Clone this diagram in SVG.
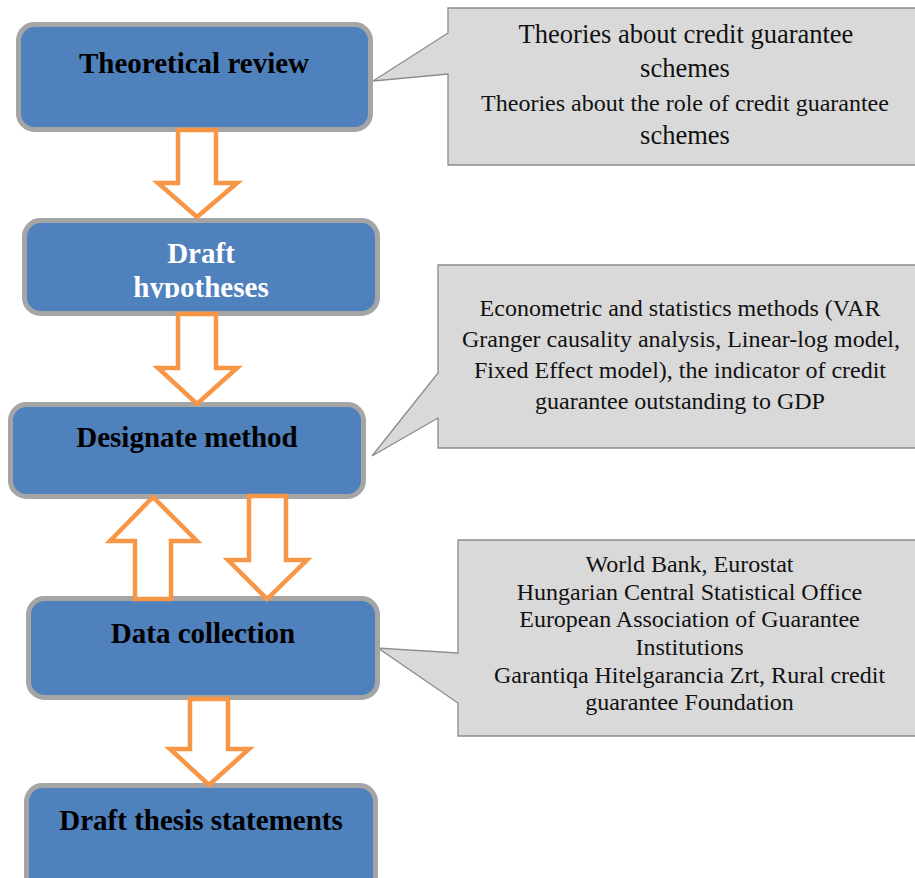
<svg xmlns="http://www.w3.org/2000/svg" width="915" height="878" viewBox="0 0 915 878">
<style>
.box{fill:#4f81bd;stroke:#a5a5a5;stroke-width:5}
.arr{fill:#ffffff;stroke:#f79646;stroke-width:4.5;stroke-linejoin:miter}
.call{fill:#d9d9d9;stroke:#8c8c8c;stroke-width:1.3}
.bt{font-family:"Liberation Serif","Times New Roman",serif;font-weight:bold;font-size:29px;text-anchor:middle;fill:#000}
.wt{fill:#ffffff}
.ct{font-family:"Liberation Serif","Times New Roman",serif;font-size:24px;text-anchor:middle;fill:#111}
.lg{font-size:26.5px}
</style>
<defs>
<clipPath id="clipH"><rect x="0" y="0" width="915" height="298"/></clipPath>
</defs>
<rect width="915" height="878" fill="#ffffff"/>
<g id="callout1">
<path class="call" d="M448,8 H918 V165 H448 V74 L373,81 L448,33 Z"/>
<text class="ct lg" x="686" y="43">Theories about credit guarantee</text>
<text class="ct lg" x="685" y="77">schemes</text>
<text class="ct" x="685" y="111">Theories about the role of credit guarantee</text>
<text class="ct lg" x="685" y="144">schemes</text>
</g>
<g id="callout2">
<path class="call" d="M438,265 H918 V448 H438 V418 L372,456 L438,373 Z"/>
<text class="ct" x="680" y="316">Econometric and statistics methods (VAR</text>
<text class="ct" x="681" y="347">Granger causality analysis, Linear-log model,</text>
<text class="ct" x="680" y="378">Fixed Effect model), the indicator of credit</text>
<text class="ct" x="680" y="409">guarantee outstanding to GDP</text>
</g>
<g id="callout3">
<path class="call" d="M458,540 H918 V736 H458 V703 L378,648 L458,653 Z"/>
<text class="ct" x="689.5" y="572">World Bank, Eurostat</text>
<text class="ct" x="689.5" y="600">Hungarian Central Statistical Office</text>
<text class="ct" x="689.5" y="627">European Association of Guarantee</text>
<text class="ct" x="689.5" y="655">Institutions</text>
<text class="ct" x="689.5" y="683">Garantiqa Hitelgarancia Zrt, Rural credit</text>
<text class="ct" x="689.5" y="710">guarantee Foundation</text>
</g>
<g id="theoretical-review">
<rect class="box" x="18.5" y="24.5" width="352" height="105" rx="16"/>
<text class="bt" x="194" y="73">Theoretical review</text>
</g>
<g id="draft-hypotheses">
<rect class="box" x="24.5" y="220.5" width="353" height="93" rx="16"/>
<g clip-path="url(#clipH)">
<text class="bt wt" x="201" y="263">Draft</text>
<text class="bt wt" x="201" y="297">hypotheses</text>
</g>
</g>
<g id="designate-method">
<rect class="box" x="10.5" y="404.5" width="353" height="92" rx="16"/>
<text class="bt" x="187" y="447">Designate method</text>
</g>
<g id="data-collection">
<rect class="box" x="28.5" y="598.5" width="349" height="99" rx="16"/>
<text class="bt" x="203" y="643">Data collection</text>
</g>
<g id="draft-thesis-statements">
<rect class="box" x="26.5" y="785.5" width="349" height="120" rx="16"/>
<text class="bt" x="201" y="830">Draft thesis statements</text>
</g>
<g id="connectors">
<polygon class="arr" points="178,130 216,130 216,183 237,183 197,217 158,183 178,183"/>
<polygon class="arr" points="178,314 216,314 216,368 237,368 197,404 158,368 178,368"/>
<polygon class="arr" points="135,599 171,599 171,541 197,541 153,497 110,541 135,541"/>
<polygon class="arr" points="249,496 286,496 286,560 307,560 267,599 228,560 249,560"/>
<polygon class="arr" points="190,699 228,699 228,749 249,749 209,785 170,749 190,749"/>
</g>
</svg>
